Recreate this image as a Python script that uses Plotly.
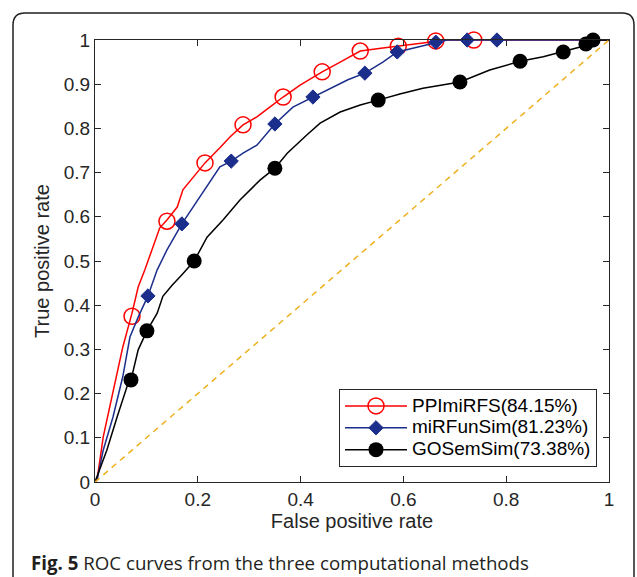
import plotly.graph_objects as go

# ---- data ----
series_names = ["PPImiRFS(84.15%)", "miRFunSim(81.23%)", "GOSemSim(73.38%)"]

ppi_x = [0, 0.004, 0.016, 0.029, 0.043, 0.054, 0.072, 0.084, 0.097, 0.111, 0.126, 0.140, 0.160, 0.171,
         0.191, 0.214, 0.243, 0.263, 0.288, 0.315, 0.340, 0.366, 0.399, 0.442, 0.477, 0.516, 0.560,
         0.590, 0.626, 0.656, 0.685, 1.0]
ppi_y = [0, 0.005, 0.102, 0.170, 0.247, 0.305, 0.382, 0.441, 0.480, 0.525, 0.575, 0.593, 0.622, 0.661,
         0.690, 0.722, 0.756, 0.781, 0.808, 0.826, 0.848, 0.871, 0.898, 0.928, 0.950, 0.975, 0.982,
         0.986, 0.991, 0.995, 1.0, 1.0]
ppi_mx = [0.072, 0.140, 0.214, 0.288, 0.366, 0.442, 0.516, 0.590, 0.663, 0.737]
ppi_my = [0.375, 0.590, 0.722, 0.808, 0.871, 0.928, 0.975, 0.986, 0.998, 1.0]

mir_x = [0, 0.004, 0.016, 0.035, 0.054, 0.068, 0.084, 0.103, 0.121, 0.140, 0.169, 0.191, 0.218, 0.243,
         0.265, 0.288, 0.315, 0.350, 0.385, 0.424, 0.463, 0.492, 0.525, 0.560, 0.588, 0.626, 0.663,
         0.685, 1.0]
mir_y = [0, 0.005, 0.072, 0.147, 0.238, 0.328, 0.373, 0.421, 0.480, 0.525, 0.584, 0.622, 0.667, 0.713,
         0.726, 0.744, 0.762, 0.810, 0.848, 0.871, 0.894, 0.910, 0.925, 0.950, 0.973, 0.984, 0.995,
         1.0, 1.0]
mir_mx = [0.103, 0.169, 0.265, 0.350, 0.424, 0.525, 0.588, 0.663, 0.724, 0.782]
mir_my = [0.421, 0.584, 0.726, 0.810, 0.871, 0.925, 0.973, 0.995, 1.0, 1.0]

gos_x = [0, 0.023, 0.043, 0.062, 0.070, 0.084, 0.101, 0.121, 0.132, 0.150, 0.170, 0.193, 0.218, 0.249,
         0.282, 0.321, 0.350, 0.374, 0.412, 0.438, 0.477, 0.516, 0.551, 0.593, 0.638, 0.710, 0.768,
         0.827, 0.872, 0.911, 0.944, 0.969, 1.0]
gos_y = [0, 0.072, 0.147, 0.215, 0.231, 0.299, 0.342, 0.382, 0.420, 0.445, 0.470, 0.500, 0.554, 0.593,
         0.638, 0.683, 0.710, 0.744, 0.785, 0.812, 0.837, 0.853, 0.864, 0.878, 0.891, 0.905, 0.932,
         0.952, 0.962, 0.973, 0.984, 1.0, 1.0]
gos_mx = [0.070, 0.101, 0.193, 0.350, 0.551, 0.710, 0.827, 0.911, 0.955, 0.969]
gos_my = [0.231, 0.342, 0.500, 0.710, 0.864, 0.905, 0.952, 0.973, 0.991, 1.0]

diag = [0, 1]
x_ticks = [0, 0.2, 0.4, 0.6, 0.8, 1]
y_ticks = [0, 0.1, 0.2, 0.3, 0.4, 0.5, 0.6, 0.7, 0.8, 0.9, 1]
caption = "<b>Fig. 5</b> ROC curves from the three computational methods"

RED = "#FF0000"
BLUE = "#1B2E8C"
BLACK = "#000000"
ORANGE = "#EDB120"
AX = "#262626"
FONT = "Liberation Sans, Arial"

fig = go.Figure()

specs = [
    (ppi_x, ppi_y, ppi_mx, ppi_my, RED, dict(symbol="circle-open", size=16, color=RED, line=dict(width=1.5, color=RED))),
    (mir_x, mir_y, mir_mx, mir_my, BLUE, dict(symbol="diamond", size=11, color=BLUE, line=dict(width=1, color=BLUE))),
    (gos_x, gos_y, gos_mx, gos_my, BLACK, dict(symbol="circle", size=15, color=BLACK, line=dict(width=0))),
]

for (lx, ly, mx, my, col, mk), name in zip(specs, series_names):
    fig.add_trace(go.Scatter(x=lx, y=ly, mode="lines", line=dict(color=col, width=1.5),
                             showlegend=False, hoverinfo="skip", cliponaxis=False))
    fig.add_trace(go.Scatter(x=mx, y=my, mode="markers", marker=mk,
                             showlegend=False, cliponaxis=False))
    fig.add_trace(go.Scatter(x=[None], y=[None], mode="lines+markers",
                             name=f'<span style="font-size:19px">{name}</span>',
                             line=dict(color=col, width=1.5), marker=mk))

fig.add_trace(go.Scatter(x=diag, y=diag, mode="lines", showlegend=False,
                         line=dict(color=ORANGE, width=1.5, dash="6px,5px"), cliponaxis=False))

# rounded frame around figure + caption
px = lambda p: (p - 95) / 514
py = lambda p: (482 - p) / 442
L, R, T, B = px(13), px(634), py(13), py(600)
rx, ry = 12 / 514, 12 / 442
path = (f"M{L},{B} L{L},{T - ry} Q{L},{T} {L + rx},{T} L{R - rx},{T} "
        f"Q{R},{T} {R},{T - ry} L{R},{B}")
fig.add_shape(type="path", path=path, xref="paper", yref="paper",
              line=dict(color="#231f20", width=1.5))

fig.add_annotation(text=caption, xref="paper", yref="paper", x=px(29), y=py(562),
                   xanchor="left", yanchor="middle", showarrow=False,
                   font=dict(family="Open Sans", size=18.7, color="#231f20"))

axis_common = dict(range=[0, 1], showline=True, mirror="ticks", linecolor=AX, linewidth=1,
                   ticks="inside", ticklen=6, tickcolor=AX, showgrid=False, zeroline=False,
                   tickfont=dict(family=FONT, size=19, color=AX))

fig.update_xaxes(**axis_common, tickvals=x_ticks, ticktext=[f"{v:g}" for v in x_ticks],
                 title=dict(text="False positive rate", standoff=3,
                            font=dict(family=FONT, size=20, color=AX)))
fig.update_yaxes(**axis_common, tickvals=y_ticks, ticktext=[f"{v:g}" for v in y_ticks],
                 title=dict(text="True positive rate", standoff=8,
                            font=dict(family=FONT, size=20, color=AX)))

fig.update_layout(
    width=637, height=577,
    margin=dict(l=95, r=28, t=40, b=95, autoexpand=False),
    paper_bgcolor="white", plot_bgcolor="white",
    legend=dict(x=px(597), y=py(467), xanchor="right", yanchor="bottom",
                bgcolor="white", bordercolor=AX, borderwidth=1, itemwidth=62,
                font=dict(family=FONT, size=14.5, color="#000000"),
                tracegroupgap=0),
    showlegend=True,
)

fig.write_html("out.html")
